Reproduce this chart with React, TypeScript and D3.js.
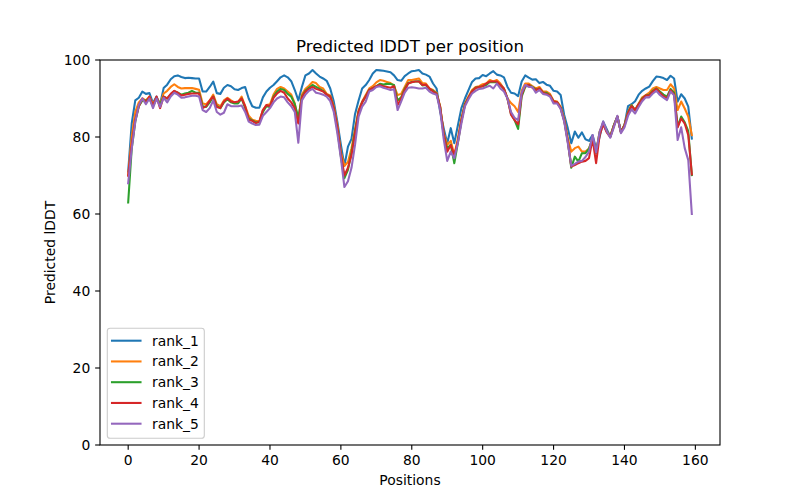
import React from "react";
import * as d3 from "d3";

const positions: number[] = Array.from({ length: 160 }, (_, i) => i);

const rank1: number[] = [
  71, 83.5, 89.5, 90.2, 91.8, 91.2, 91.4, 88.8, 90.5, 88.5,
  92.7, 93.6, 95, 95.8, 96, 95.6, 95.3, 95.4, 95.3, 95.2,
  95.2, 91.8, 91.8, 93, 94.4, 91.4, 91.2, 92.8, 93.5, 93.2,
  92.4, 92.2, 92.7, 93, 90, 88, 87.6, 87.6, 90.3, 91.8,
  92.8, 93.5, 94.5, 95.5, 96, 95.5, 94.5, 92.2, 89.5, 93,
  96, 96.5, 97.4, 96.5, 95.7, 95.2, 94.6, 92.6, 89.2, 84,
  78, 72.5, 77.5, 79.5, 86, 89.5, 92.6, 93.5, 94.8, 96.5,
  97.4, 97.3, 97.2, 97, 96.8, 96, 94.8, 94.6, 95.8, 96.5,
  97.1, 97.2, 97.4, 96.5, 96.2, 95.7, 93.9, 92.6, 86.6, 82.3,
  78.4, 82.3, 78.4, 83, 87.5, 90, 92.2, 94.3, 95.2, 95.3,
  96.1, 95.8, 96.5, 97.1, 96.2, 96, 95.5, 93, 91.5, 91.3,
  90.6, 94.4, 96, 95.4, 94.9, 95, 94, 94.3, 93.6, 93.3,
  92, 91.8, 90.9, 85.7, 82.3, 78.4, 81.4, 79.8, 81.2, 79.4,
  79, 80.5, 77, 80, 84, 82, 80.1, 83, 85.3, 81.3,
  83, 88, 88.5, 89.3, 91, 92, 92.6, 93.1, 94.5, 95.7,
  95.6, 95.3, 94.8, 95.9, 95.2, 89.2, 91.1, 90, 87.9, 79.6,
];

const rank2: number[] = [
  70, 80, 86.5, 89, 90, 89.5, 90.5, 88.5, 90.2, 88.5,
  91.3, 92, 93, 93.7, 93, 92.6, 92.7, 92.7, 92.7, 92.5,
  92.3, 88.7, 88.5, 89.5, 91, 88.5, 88, 89.5, 90.2, 89.5,
  89, 89, 90.5, 88, 85.5, 84.5, 84.2, 84, 87, 88.3,
  88.5, 91, 92.5, 93, 92.6, 91.8, 91, 88.7, 84, 91,
  92.5, 93.3, 94.3, 94, 93, 92.6, 91.2, 90.8, 88, 83,
  76, 72.5, 73.5, 77.1, 82, 87, 89.2, 90.9, 92.6, 93.2,
  94.2, 94.8, 94.6, 94.3, 94, 93.3, 90.9, 91.2, 93, 94.8,
  94.8, 95, 95.2, 94, 93.9, 92.6, 92.2, 91.5, 88, 81,
  78, 79, 75.3, 79.6, 84.8, 88.7, 90.5, 92.2, 93, 93.2,
  93.7, 93.9, 94.8, 94.4, 94.8, 93.9, 92.5, 90, 88.8, 88,
  86.5, 92, 93.9, 93.9, 93.2, 92.6, 93, 91.8, 91.8, 91.2,
  89.4, 89.2, 87.9, 84.7, 79.7, 76.2, 77.1, 77.5, 76.2, 76.2,
  77, 79.7, 76.2, 81.4, 83.6, 81.5, 80.3, 83, 85.3, 81.3,
  83.1, 86.5, 88.3, 87, 88.7, 90.3, 90.9, 91.5, 92.6, 93,
  92.6, 92.2, 92.2, 93.7, 92.6, 87, 89.2, 87.4, 85.3, 80.5,
];

const rank3: number[] = [
  63, 77, 84, 88, 89.5, 89.5, 90, 88, 90, 88.5,
  90.5, 90, 91, 91.9, 91.5, 91, 91.3, 91.5, 92, 91.5,
  91.5, 88, 87.8, 89, 90.5, 88, 87.5, 89, 89.8, 89,
  88.7, 88.7, 90, 87.5, 84.8, 84.3, 83.8, 83.8, 86.5, 88,
  87.8, 90.5, 91.8, 92.5, 92.2, 91.2, 90.5, 88.5, 85, 90.5,
  92, 92.8, 93.5, 93, 92.5, 92, 91, 90.5, 87.5, 82,
  75, 69.3, 71.5, 76, 81.5, 86.5, 89, 90.5, 92.2, 92.7,
  93.2, 93.8, 93.6, 93.8, 93.8, 93.5, 89.5, 90.3, 92.5, 94,
  94.3, 94.4, 94.5, 93.4, 93.5, 92.4, 92, 91.2, 87.8, 80.5,
  77, 78, 73.2, 78.5, 84.2, 88.5, 90.2, 91.8, 92.8, 93,
  93.2, 93.5, 94.3, 94.2, 94.2, 93.5, 92.5, 90, 86, 84.4,
  82.1, 90.5, 93, 93.5, 93, 92.3, 92.6, 91.5, 91.5, 90.8,
  89.2, 89, 87.5, 84.3, 79, 72, 74.9, 73.6, 75.8, 75.8,
  77, 79.5, 75.8, 81.2, 83.6, 81.5, 80.1, 83, 85.3, 81.3,
  83.1, 86.3, 88.2, 87, 88.5, 90, 90.8, 91, 92, 92.6,
  91.8, 91, 90.5, 92.5, 91.5, 82.7, 85.3, 83.8, 81.5, 70.1,
];

const rank4: number[] = [
  70, 78, 84.5, 88, 90, 89, 90.5, 88, 90.5, 87.5,
  90.5, 90, 91.2, 92, 91.5, 90.8, 91, 91.2, 91.3, 91.3,
  91.3, 87.5, 88, 89.5, 90.5, 87.8, 87.5, 89.2, 90, 89.2,
  89, 89.2, 90, 88, 84.5, 84.2, 83.6, 84, 87, 88.3,
  88, 90.2, 91.3, 92, 91.5, 90, 89, 87.5, 83.5, 90.3,
  91.8, 92.5, 93, 92.5, 92.2, 91.8, 91, 90.5, 87.5, 82.5,
  75.5, 70, 72, 75.3, 81, 86.5, 89, 90.5, 92.2, 92.7,
  93.2, 93.5, 93.2, 93, 92.8, 93.2, 88.3, 90, 92.2, 93.9,
  94.2, 94.4, 94.4, 93.5, 93.6, 92.6, 91.8, 91.2, 87.8, 80.8,
  76.2, 77.9, 75.3, 78.8, 84.3, 88.3, 90.2, 91.8, 92.7, 93,
  93.2, 93.9, 94.4, 94.4, 94.4, 93.5, 92.6, 90, 85.8, 84.4,
  83.3, 91, 93.3, 93.5, 92.8, 92.2, 92.6, 91.5, 91.2, 90.8,
  89.2, 89, 87.5, 84.3, 79, 72.3, 72.7, 73.2, 73.6, 73.8,
  74.5, 79.5, 73.2, 80.5, 83.3, 81.2, 80, 82.8, 85.3, 81.2,
  83, 86.2, 88, 87, 88.5, 89.8, 90.8, 90.8, 91.8, 92.5,
  91.5, 90.6, 90, 92.2, 91, 82.5, 84.8, 83.5, 80.5, 70.3,
];

const rank5: number[] = [
  68, 77, 84, 88.3, 90, 88.5, 90, 87.5, 90, 87.8,
  90.2, 89, 90.5, 91.5, 91, 90.2, 90.3, 90.5, 90.7, 90.7,
  90.5, 87, 86.5, 87.5, 89.5, 86.5, 85.8, 86.3, 88.5, 88,
  88, 88, 88.2, 86.5, 84, 83.5, 83.1, 83.2, 85.5, 86.5,
  87.5, 89, 90, 90.5, 90.3, 89, 88, 86.5, 78.5, 89.5,
  91, 92, 92.5, 91.5, 91.3, 91, 90.5, 89.3, 86.5, 81,
  74.5, 67, 68.5, 72, 78, 85.3, 87.9, 89.2, 91.8, 92.2,
  93, 93.2, 92.8, 92.5, 92.2, 92.4, 87, 89.2, 91.5, 92.8,
  92.9, 92.8, 92.6, 92.6, 92.8, 91.8, 91.3, 91, 87, 79.5,
  73.8, 76.2, 74.5, 78.5, 83.5, 88, 89.8, 91.3, 92, 92.5,
  92.6, 93, 93.3, 92.6, 93.9, 92.6, 91.8, 90, 86.5, 85,
  84.4, 91.5, 93.5, 93, 93, 91.5, 92.2, 91.2, 91, 90.5,
  88.7, 88.7, 87.3, 84, 78.5, 72.5, 73, 73.6, 73.8, 74.8,
  76.2, 80.5, 76, 81.4, 84, 81.5, 79.8, 82.5, 85.5, 81,
  82.5, 85.5, 87.2, 86.1, 87.8, 89.3, 90.3, 90.3, 91.3, 92,
  90.9, 90.2, 89.6, 91.8, 90.8, 79.2, 82.5, 77.1, 74, 60,
];

const seriesNames: string[] = ["rank_1", "rank_2", "rank_3", "rank_4", "rank_5"];
const seriesColors: string[] = ["#1f77b4", "#ff7f0e", "#2ca02c", "#d62728", "#9467bd"];
const xTicks: number[] = [0, 20, 40, 60, 80, 100, 120, 140, 160];
const yTicks: number[] = [0, 20, 40, 60, 80, 100];

const W = 800;
const H = 500;
const L = 100, R = 720, T = 60, B = 445;
const FONT = "DejaVu Sans, sans-serif";

export default function App() {
  const allSeries = [rank1, rank2, rank3, rank4, rank5];
  const xMin = 0, xMax = 159;
  const pad = (xMax - xMin) * 0.05;
  const x = d3.scaleLinear().domain([xMin - pad, xMax + pad]).range([L, R]);
  const y = d3.scaleLinear().domain([0, 100]).range([B, T]);
  const line = d3
    .line<number>()
    .x((_, i) => x(positions[i]))
    .y((d) => y(d));

  const tickLen = 4.86;
  const fs = 13.89;

  return (
    <svg width={W} height={H} style={{ position: "absolute", left: 0, top: 0, background: "#fff" }} fontFamily={FONT}>
      <rect x={0} y={0} width={W} height={H} fill="#fff" />
      <defs>
        <clipPath id="plotclip">
          <rect x={L} y={T} width={R - L} height={B - T} />
        </clipPath>
      </defs>
      <g clipPath="url(#plotclip)">
        {allSeries.map((s, k) => (
          <path
            key={k}
            d={line(s) || ""}
            fill="none"
            stroke={seriesColors[k]}
            strokeWidth={2.08}
            strokeLinejoin="round"
            strokeLinecap="square"
          />
        ))}
      </g>
      {/* spines */}
      <rect x={L} y={T} width={R - L} height={B - T} fill="none" stroke="#000" strokeWidth={1.1} />
      {/* x ticks */}
      {xTicks.map((t) => (
        <g key={"x" + t}>
          <line x1={x(t)} x2={x(t)} y1={B} y2={B + tickLen} stroke="#000" strokeWidth={1.1} />
          <text x={x(t)} y={B + tickLen + 4.86 + 10.6} textAnchor="middle" fontSize={fs} fill="#000">
            {t}
          </text>
        </g>
      ))}
      {/* y ticks */}
      {yTicks.map((t) => (
        <g key={"y" + t}>
          <line x1={L - tickLen} x2={L} y1={y(t)} y2={y(t)} stroke="#000" strokeWidth={1.1} />
          <text x={L - tickLen - 4.86} y={y(t) + 5} textAnchor="end" fontSize={fs} fill="#000">
            {t}
          </text>
        </g>
      ))}
      {/* labels */}
      <text x={(L + R) / 2} y={485} textAnchor="middle" fontSize={fs} fill="#000">
        Positions
      </text>
      <text
        transform={`translate(55, ${(T + B) / 2}) rotate(-90)`}
        textAnchor="middle"
        fontSize={fs}
        fill="#000"
      >
        Predicted lDDT
      </text>
      <text x={(L + R) / 2} y={52} textAnchor="middle" fontSize={16.67} fill="#000">
        Predicted lDDT per position
      </text>
      {/* legend */}
      <rect x={107.3} y={328.3} width={97} height={110} rx={2.8} ry={2.8} fill="#fff" fillOpacity={0.8} stroke="#cccccc" strokeWidth={1.1} />
      {seriesNames.map((n, k) => {
        const ly = 340.7 + k * 20.75;
        return (
          <g key={n}>
            <line x1={112} x2={140.5} y1={ly} y2={ly} stroke={seriesColors[k]} strokeWidth={2.08} strokeLinecap="square" />
            <text x={152} y={ly + 5} fontSize={fs} fill="#000">
              {n}
            </text>
          </g>
        );
      })}
    </svg>
  );
}
